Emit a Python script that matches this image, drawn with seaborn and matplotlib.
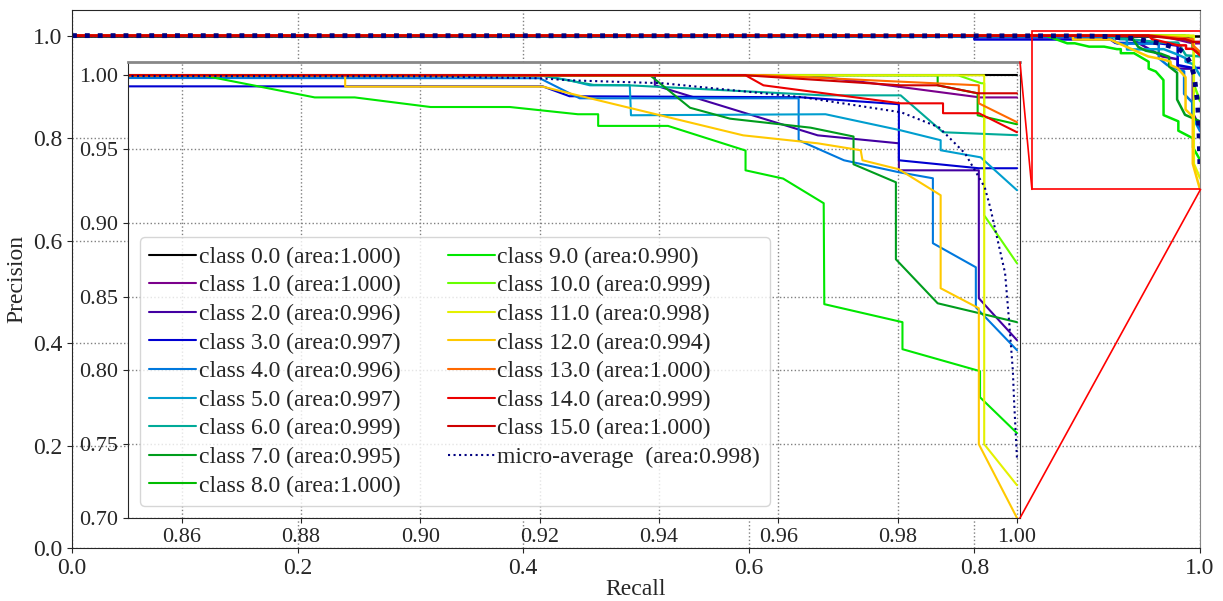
import matplotlib
matplotlib.use("Agg")
import matplotlib.pyplot as plt
import numpy as np
import pandas as pd
import seaborn as sns
from matplotlib.patches import Rectangle, ConnectionPatch

# precision / recall points (recall, precision)
rec_00 = [0.0, 1.0]
pre_00 = [1.0, 1.0]
rec_01 = [0.0, 0.965, 0.975, 0.9938, 1.0]
pre_01 = [1.0, 1.0, 0.995, 0.985, 0.985]
rec_02 = [0.0, 0.9393, 0.9393, 0.9666, 0.9802, 0.9802, 0.9936, 0.9936, 1.0]
pre_02 = [1.0, 1.0, 0.9932, 0.9593, 0.9539, 0.9356, 0.9356, 0.8489, 0.8205]
rec_03 = [0.0, 0.80, 0.80, 0.9205, 0.925, 0.9637, 0.9802, 0.9802, 0.9936, 1.0]
pre_03 = [1.0, 1.0, 0.9925, 0.9925, 0.9858, 0.9851, 0.9804, 0.9424, 0.937, 0.937]
rec_04 = [0.0, 0.92, 0.9267, 0.9634, 0.9634, 0.971, 0.9802, 0.9859, 0.9859, 0.9931, 0.9931, 1.0]
pre_04 = [1.0, 0.998, 0.9844, 0.9844, 0.956, 0.9424, 0.9343, 0.9302, 0.8862, 0.8699, 0.8428, 0.8137]
rec_05 = [0.0, 0.92, 0.925, 0.9284, 0.9351, 0.9353, 0.9679, 0.9805, 0.9872, 0.9872, 0.9939, 1.0]
pre_05 = [1.0, 1.0, 0.9966, 0.9932, 0.9932, 0.9729, 0.9736, 0.9627, 0.956, 0.9492, 0.9444, 0.9221]
rec_06 = [0.0, 0.92, 0.929, 0.935, 0.9676, 0.9805, 0.9876, 1.0]
pre_06 = [1.0, 1.0, 0.9935, 0.9932, 0.9864, 0.9864, 0.9614, 0.9594]
rec_07 = [0.0, 0.9385, 0.9452, 0.9519, 0.9654, 0.9726, 0.9726, 0.9797, 0.9797, 0.9867, 1.0]
pre_07 = [1.0, 1.0, 0.978, 0.9706, 0.9645, 0.9585, 0.9397, 0.9275, 0.8753, 0.8455, 0.8327]
rec_08 = [0.0, 0.9867, 0.9867, 0.9934, 0.9934, 1.0]
pre_08 = [1.0, 1.0, 0.9932, 0.9878, 0.9729, 0.9668]
rec_09 = [0.0, 0.8634, 0.8823, 0.889, 0.9017, 0.915, 0.9264, 0.9298, 0.9298, 0.9415,
          0.9545, 0.9545, 0.9608, 0.9676, 0.9677, 0.9808, 0.9808, 0.9938, 0.9938, 1.0]
pre_09 = [1.0, 1.0, 0.985, 0.985, 0.9785, 0.9785, 0.9736, 0.9736, 0.9657, 0.9657,
          0.949, 0.9356, 0.930, 0.9133, 0.8449, 0.8327, 0.8144, 0.7995, 0.7818, 0.7575]
rec_10 = [0.0, 0.9901, 0.994, 0.9945, 0.9945, 1.0]
pre_10 = [1.0, 1.0, 0.9946, 0.9946, 0.9051, 0.8726]
rec_11 = [0.0, 0.9945, 0.9945, 1.0]
pre_11 = [1.0, 1.0, 0.75, 0.7222]
rec_12 = [0.0, 0.8874, 0.8874, 0.9205, 0.9264, 0.9541, 0.9666, 0.9738, 0.9741, 0.9802,
          0.9872, 0.9872, 0.9936, 0.9936, 1.0]
pre_12 = [1.0, 1.0, 0.9923, 0.9923, 0.9864, 0.9593, 0.9539, 0.9492, 0.9424, 0.9363,
          0.9187, 0.8557, 0.8421, 0.75, 0.70]
rec_13 = [0.0, 0.9575, 0.9936, 0.9936, 1.0]
pre_13 = [1.0, 1.0, 0.9932, 0.981, 0.9682]
rec_14 = [0.0, 0.9545, 0.9575, 0.9805, 0.9876, 0.9876, 0.9936, 1.0]
pre_14 = [1.0, 1.0, 0.9932, 0.981, 0.981, 0.9743, 0.9743, 0.9614]
rec_15 = [0.0, 0.9545, 0.9805, 0.9867, 0.9934, 1.0]
pre_15 = [1.0, 1.0, 0.9932, 0.9932, 0.9878, 0.9878]
rec_micro = [0.0, 0.85, 0.90, 0.92, 0.925, 0.9407, 0.9643, 0.9806, 0.9869, 0.9913,
             0.9946, 0.9955, 0.998, 0.9987, 0.9993, 0.9995, 1.0]
pre_micro = [1.0, 0.9995, 0.9993, 0.998, 0.9966, 0.9946, 0.985, 0.9749, 0.9648, 0.947,
             0.924, 0.9106, 0.866, 0.832, 0.80, 0.78, 0.74]

class_names = ['0.0', '1.0', '2.0', '3.0', '4.0', '5.0', '6.0', '7.0',
               '8.0', '9.0', '10.0', '11.0', '12.0', '13.0', '14.0', '15.0']
class_ap = [1.000, 1.000, 0.996, 0.997, 0.996, 0.997, 0.999, 0.995,
            1.000, 0.990, 0.999, 0.998, 0.994, 1.000, 0.999, 1.000]
micro_ap = 0.998

recalls = [rec_00, rec_01, rec_02, rec_03, rec_04, rec_05, rec_06, rec_07,
           rec_08, rec_09, rec_10, rec_11, rec_12, rec_13, rec_14, rec_15]
precisions = [pre_00, pre_01, pre_02, pre_03, pre_04, pre_05, pre_06, pre_07,
              pre_08, pre_09, pre_10, pre_11, pre_12, pre_13, pre_14, pre_15]

sns.set_style("ticks")
plt.rcParams['font.family'] = ['Liberation Serif', 'DejaVu Serif']
plt.rcParams['font.size'] = 16

cmap = plt.get_cmap('nipy_spectral')
colors = [cmap(i / 16) for i in range(16)]

fig = plt.figure(figsize=(12.23, 6.01), dpi=100)
ax = fig.add_axes([72 / 1223, 53 / 601, 1128 / 1223, 538 / 601])
axins = ax.inset_axes([56 / 1128, 30 / 538, 892 / 1128, 456 / 538])


def draw(a, lw, micro_lw):
    for i in range(16):
        df = pd.DataFrame({'Recall': recalls[i], 'Precision': precisions[i]})
        sns.lineplot(data=df, x='Recall', y='Precision', ax=a, sort=False, estimator=None,
                     color=colors[i], lw=lw,
                     label='class {} (area:{:.3f})'.format(class_names[i], class_ap[i]))
    df = pd.DataFrame({'Recall': rec_micro, 'Precision': pre_micro})
    sns.lineplot(data=df, x='Recall', y='Precision', ax=a, sort=False, estimator=None,
                 color='navy', lw=micro_lw, linestyle=':',
                 label='micro-average  (area:{:.3f})'.format(micro_ap))


draw(ax, 1.8, 3.5)
ax.get_legend().remove()
draw(axins, 1.5, 1.5)

ax.set_xlim(0.0, 1.0)
ax.set_ylim(0.0, 1.05)
ax.set_xticks(np.arange(0, 1.01, 0.2))
ax.set_yticks(np.arange(0, 1.01, 0.2))
ax.grid(True, linestyle=':', color='gray', lw=1)
ax.set_xlabel('Recall', fontsize=17, labelpad=0)
ax.set_ylabel('Precision', fontsize=17)
ax.tick_params(labelsize=17)
ax.spines['right'].set_color('#888888')

x1, x2, y1, y2 = 0.851, 1.0005, 0.70, 1.009
axins.set_xlim(x1, x2)
axins.set_ylim(y1, y2)
axins.set_xticks(np.arange(0.86, 1.001, 0.02))
axins.set_yticks(np.arange(0.70, 1.001, 0.05))
axins.xaxis.set_major_formatter(matplotlib.ticker.FormatStrFormatter('%.2f'))
axins.yaxis.set_major_formatter(matplotlib.ticker.FormatStrFormatter('%.2f'))
axins.grid(True, linestyle=':', color='gray', lw=1)
axins.set_xlabel('')
axins.set_ylabel('')
axins.tick_params(labelsize=16)
axins.spines['top'].set_color('#888888')
axins.spines['top'].set_linewidth(2)
axins.legend(loc='lower left', ncol=2, fontsize=17, handlelength=2.0,
             handletextpad=0.1, columnspacing=2.0, labelspacing=0.3)

# zoom box and connectors
ax.add_patch(Rectangle((x1, y1), x2 - x1, y2 - y1, fill=False, edgecolor='red', lw=1.2, zorder=5))
for xy_in, xy_data in [((1, 1), (x1, y1)), ((1, 0), (x2, y1))]:
    con = ConnectionPatch(xyA=xy_in, coordsA=axins.transAxes, xyB=xy_data, coordsB=ax.transData,
                          color='red', lw=1.2)
    fig.add_artist(con)

plt.savefig('out.png', dpi=100)
